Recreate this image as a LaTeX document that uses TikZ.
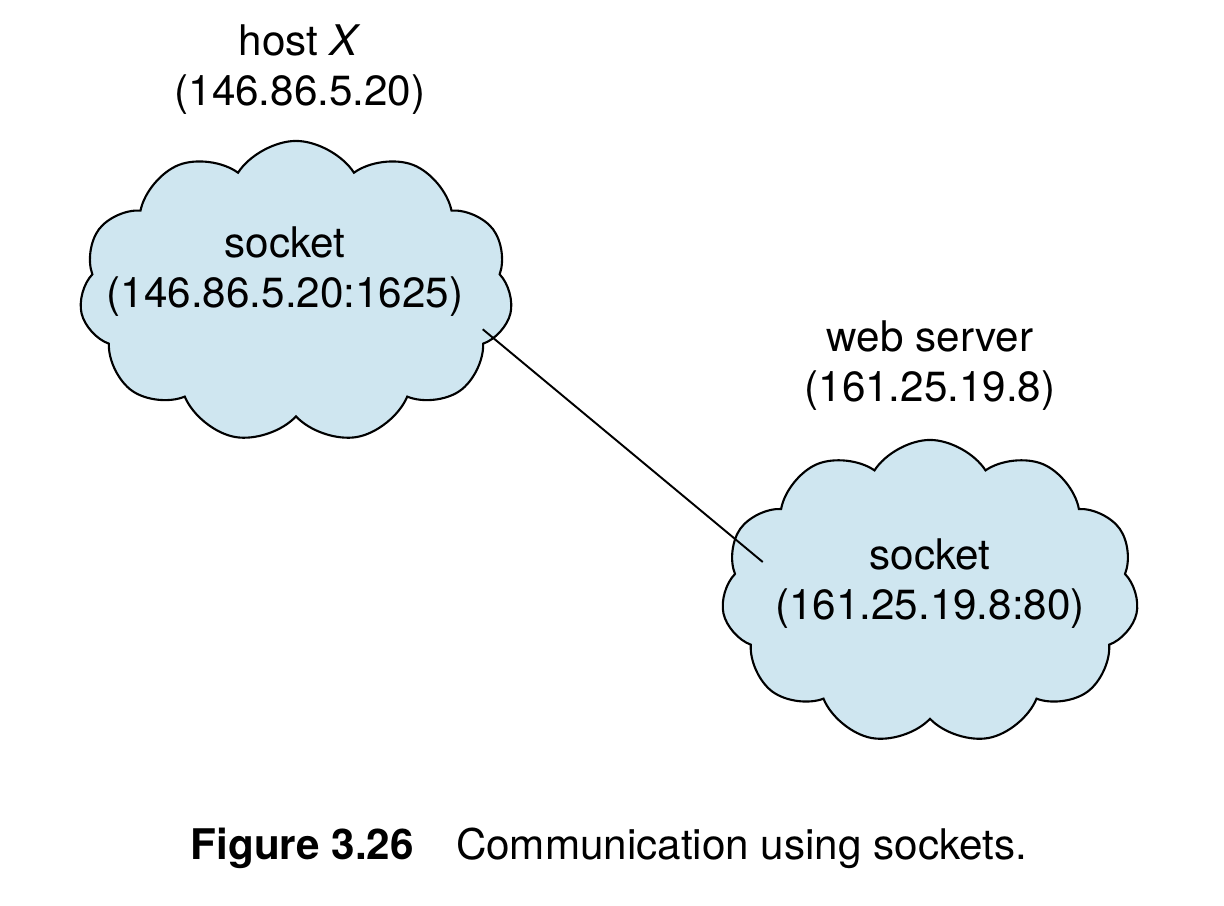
\documentclass[tikz,border=0pt]{standalone}
\usepackage{fontspec}
\setmainfont{TeX Gyre Heros}
\usetikzlibrary{positioning,shapes.symbols}
\definecolor{cloudblue}{HTML}{CFE6F0}

\begin{document}
\begin{tikzpicture}[x=0.01cm,y=-0.01cm,
	every node/.style={font=\fontsize{12}{14.2}\selectfont},
	hostcloud/.style={draw, cloud, cloud puffs=11, cloud puff arc=115,
		fill=cloudblue, line width=0.6pt},
]
\useasboundingbox (0,0) rectangle (1224,905);

% Host X
\node [hostcloud,
	aspect=1.45,
	minimum width=4.33cm,
	minimum height=3.02cm
] (host_cloud) at (296,292) {};
\node [align=center] (host_sock) at (285,272) {
socket\\(146.86.5.20:1625)
};
\node [align=center] (host_label) at (300,70) {
host \textit{X}\\(146.86.5.20)
};

% Web server
\node [hostcloud,
	aspect=1.4,
	minimum width=4.17cm,
	minimum height=3.04cm
] (server_cloud) at (930,592) {};
\node [align=center] (server_sock) at (930,584) {
socket\\(161.25.19.8:80)
};
\node [align=center] (server_label) at (930,366) {
web server\\(161.25.19.8)
};

% Connection
\draw[line width=0.55pt] ([xshift=0.07cm] host_sock.south east) -- ([yshift=0.22cm] server_sock.west);

% Caption
\node (caption) at (609,848) {
\textbf{Figure 3.26}\hspace{1em}Communication using sockets.
};

\end{tikzpicture}
\end{document}
